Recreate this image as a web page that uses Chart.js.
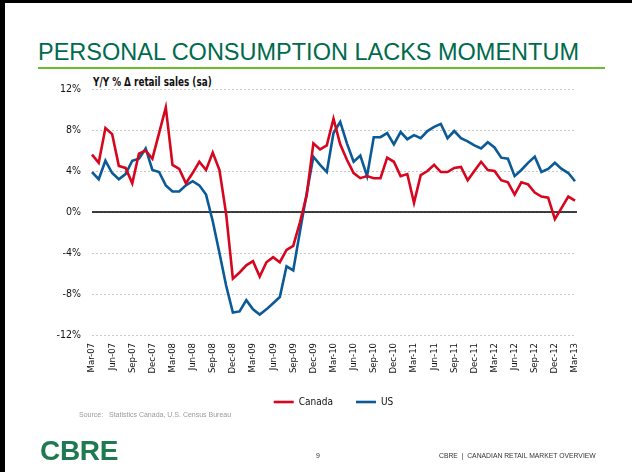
<!DOCTYPE html>
<html>
<head>
<meta charset="utf-8">
<script src="https://cdn.jsdelivr.net/npm/chart.js@4"></script>
<style>
  body { margin: 0; background: #fff; }
  #slide { position: relative; width: 632px; height: 472px; overflow: hidden; background: #fff; }
  #slide .txt { position: absolute; white-space: nowrap; }
  #border-left { position: absolute; left: 0; top: 0; width: 5px; height: 472px; background: #000; }
  #border-top { position: absolute; left: 0; top: 0; width: 632px; height: 3px; background: #000; }
  #title { left: 38px; top: 41px; font: 23.5px "Liberation Sans", Arial, sans-serif; line-height: 23px; color: #006a4d; }
  #rule { position: absolute; left: 38px; top: 67px; width: 567px; height: 2px; background: #6cbd2c; }
  #subtitle { left: 93px; top: 75px; font: bold 12px "DejaVu Sans Condensed", "Liberation Sans Narrow", sans-serif; line-height: 14px; color: #111; transform: scaleX(0.82); transform-origin: left center; }
  #source { left: 79px; top: 411px; font: 7px "Liberation Sans", Arial, sans-serif; color: #9a9a9a; }
  #logo { left: 40px; top: 437px; font: bold 28px "Liberation Sans", Arial, sans-serif; line-height: 28px; color: #1f7a52; letter-spacing: -0.3px; }
  #page { left: 316px; top: 452px; font: 7px "Liberation Sans", Arial, sans-serif; color: #333; }
  #footer { left: 439px; top: 452px; font: 6.8px "Liberation Sans", Arial, sans-serif; color: #333; }
  canvas { position: absolute; left: 0; top: 0; }
</style>
</head>
<body>
<div id="slide">
  <div id="border-left"></div>
  <div id="border-top"></div>
  <div class="txt" id="title">PERSONAL CONSUMPTION LACKS MOMENTUM</div>
  <div id="rule"></div>
  <div class="txt" id="subtitle">Y/Y % Δ retail sales (sa)</div>
  <canvas id="chart" width="632" height="472"></canvas>
  <div class="txt" id="source">Source:&nbsp;&nbsp;&nbsp;Statistics Canada, U.S. Census Bureau</div>
  <div class="txt" id="logo">CBRE</div>
  <div class="txt" id="page">9</div>
  <div class="txt" id="footer">CBRE&nbsp;&nbsp;|&nbsp;&nbsp;CANADIAN RETAIL MARKET OVERVIEW</div>
</div>
<script>
// monthly, Mar-07 .. Mar-13
const monthNames = ["Jan","Feb","Mar","Apr","May","Jun","Jul","Aug","Sep","Oct","Nov","Dec"];
const months = [];
for (let y = 2007; y <= 2013; y++) {
  for (let m = 0; m < 12; m++) {
    if (y == 2007 && m < 2) continue;
    if (y == 2013 && m > 2) break;
    months.push(monthNames[m] + "-" + String(y).slice(2));
  }
}

const canada = [
  5.6, 4.8, 8.2, 7.6, 4.5, 4.3, 2.8, 5.7, 6.0, 5.2, 7.7, 10.2,
  4.6, 4.2, 2.8, 3.8, 4.9, 4.1, 5.8, 4.1, -0.2, -6.5, -5.9, -5.2,
  -4.8, -6.3, -4.9, -4.4, -4.9, -3.7, -3.3, -1.0, 1.6, 6.7, 6.1, 6.5,
  9.1, 6.6, 5.1, 3.8, 3.3, 3.5, 3.3, 3.3, 5.3, 4.9, 3.5, 3.7,
  0.9, 3.6, 4.0, 4.6, 3.9, 3.9, 4.3, 4.4, 3.1, 4.0, 4.9, 4.1,
  4.0, 3.1, 2.9, 1.7, 2.9, 2.7, 1.9, 1.5, 1.4, -0.7, 0.4, 1.5,
  1.1
];
const us = [
  3.9, 3.2, 5.0, 3.8, 3.2, 3.7, 5.0, 5.2, 6.2, 4.1, 3.9, 2.6,
  2.0, 2.0, 2.6, 3.0, 2.6, 1.7, -0.9, -4.0, -7.2, -9.8, -9.7, -8.6,
  -9.5, -10.0, -9.5, -8.9, -8.3, -5.3, -5.7, -1.9, 1.8, 5.4, 4.6, 3.9,
  7.7, 8.8, 6.7, 4.9, 5.5, 3.5, 7.3, 7.3, 7.7, 6.6, 7.8, 7.1,
  7.5, 7.2, 7.9, 8.3, 8.6, 7.2, 7.9, 7.2, 6.9, 6.5, 6.2, 6.8,
  6.3, 5.3, 5.2, 3.5, 4.1, 4.8, 5.4, 3.9, 4.2, 4.8, 4.2, 3.8,
  3.0
];
const yTicks = [-12, -8, -4, 0, 4, 8, 12];

const narrow = '"DejaVu Sans Condensed", "Liberation Sans Narrow", sans-serif';

// solid black line at 0%
const zeroLine = {
  id: 'zeroLine',
  beforeDatasetsDraw(chart) {
    const y = chart.scales.y.getPixelForValue(0);
    const ctx = chart.ctx;
    ctx.save();
    ctx.strokeStyle = '#000';
    ctx.lineWidth = 1.3;
    ctx.beginPath();
    ctx.moveTo(chart.chartArea.left, y);
    ctx.lineTo(chart.chartArea.right + 2, y);
    ctx.stroke();
    ctx.restore();
  }
};

new Chart(document.getElementById('chart'), {
  type: 'line',
  data: {
    labels: months,
    datasets: [
      { label: 'Canada', data: canada, borderColor: '#d7061e', backgroundColor: '#d7061e', borderWidth: 2.6, pointRadius: 0, tension: 0 },
      { label: 'US', data: us, borderColor: '#0b5a98', backgroundColor: '#0b5a98', borderWidth: 2.6, pointRadius: 0, tension: 0 }
    ]
  },
  options: {
    responsive: false,
    animation: false,
    layout: { padding: { left: 0, right: 57, top: 89, bottom: 55 } },
    plugins: {
      tooltip: { enabled: false },
      legend: {
        position: 'bottom',
        fullSize: false,
        labels: {
          usePointStyle: true,
          pointStyle: 'line',
          pointStyleWidth: 20,
          padding: 23,
          color: '#111',
          font: { family: narrow, size: 10 }
        }
      }
    },
    scales: {
      x: {
        afterFit(scale) { scale.height = 39; },
        grid: { display: false, drawTicks: false },
        border: { display: false },
        ticks: {
          autoSkip: false,
          maxRotation: 90,
          minRotation: 90,
          padding: 8,
          color: '#111',
          font: { family: narrow, size: 9.5 },
          callback(v, i) { return i % 3 === 0 ? months[i] : ''; }
        }
      },
      y: {
        min: -12,
        max: 12,
        afterFit(scale) { scale.width = 92; },
        afterBuildTicks(scale) { scale.ticks = yTicks.map(v => ({ value: v })); },
        grid: { color: '#c8c8c8', lineWidth: 1, drawTicks: false },
        border: { display: false, dash: [2, 2] },
        ticks: {
          padding: 11,
          color: '#111',
          font: { family: narrow, size: 10.5 },
          callback(v) { return v + '%'; }
        }
      }
    }
  },
  plugins: [zeroLine]
});
</script>
</body>
</html>
